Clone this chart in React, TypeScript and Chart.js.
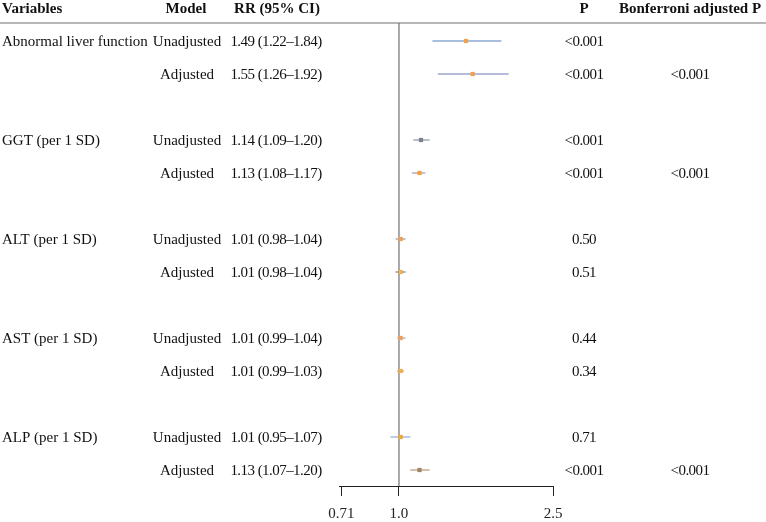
import React, { useEffect, useRef } from "react";
import { Chart, registerables } from "chart.js";

Chart.register(...registerables);

// ---- data ----
const variables = [
  "Abnormal liver function",
  "GGT (per 1 SD)",
  "ALT (per 1 SD)",
  "AST (per 1 SD)",
  "ALP (per 1 SD)",
];
const models = ["Unadjusted", "Adjusted"];
const rowPositions = [0, 1, 3, 4, 6, 7, 9, 10, 12, 13];
const rr = [1.49, 1.55, 1.14, 1.13, 1.01, 1.01, 1.01, 1.01, 1.01, 1.13];
const lower = [1.22, 1.26, 1.09, 1.08, 0.98, 0.98, 0.99, 0.99, 0.95, 1.07];
const upper = [1.84, 1.92, 1.2, 1.17, 1.04, 1.04, 1.04, 1.03, 1.07, 1.2];
const pValues = ["<0.001", "<0.001", "<0.001", "<0.001", "0.50", "0.51", "0.44", "0.34", "0.71", "<0.001"];
const bonferroni = ["", "<0.001", "", "<0.001", "", "", "", "", "", "<0.001"];
const xTicks = [0.71, 1.0, 2.5];
const xTickLabels = ["0.71", "1.0", "2.5"];
const headers = ["Variables", "Model", "RR (95% CI)", "P", "Bonferroni adjusted P"];

// ---- styles ----
const lineColors = ["#8eaad2", "#9ba6cc", "#a3a9b3", "#a9b0c4", "#a5aec8", "#8a8fd6", "#b0b8cc", "#b0a8c0", "#a6bcdc", "#caa98a"];
const pointColors = ["#f0a24e", "#f0a050", "#7d8090", "#f5a040", "#f0a050", "#f2b040", "#f0a050", "#f2b040", "#f5a535", "#a08466"];
const FONT = "'Liberation Serif', 'Times New Roman', serif";
const Y_MIN = -18 / 33;
const Y_MAX = 445 / 33;

const fmt = (v: number) => v.toFixed(2);

const textPlugin = {
  id: "forestText",
  afterDraw(chart: any) {
    const ctx = chart.ctx as any;
    const ys = chart.scales.y;
    ctx.save();
    // header
    ctx.fillStyle = "#111";
    ctx.textBaseline = "middle";
    ctx.font = `bold 15px ${FONT}`;
    const hy = 9;
    ctx.textAlign = "left";
    ctx.fillText(headers[0], 2, hy);
    ctx.textAlign = "center";
    ctx.fillText(headers[1], 186, hy);
    ctx.fillText(headers[2], 277, hy);
    ctx.fillText(headers[3], 584, hy);
    ctx.fillText(headers[4], 690, hy);
    // header rule
    ctx.strokeStyle = "#6e6e6e";
    ctx.lineWidth = 1;
    ctx.beginPath();
    ctx.moveTo(0, 23);
    ctx.lineTo(766, 23);
    ctx.stroke();
    // rows
    ctx.font = `15px ${FONT}`;
    rowPositions.forEach((p, i) => {
      const y = ys.getPixelForValue(p) + 1;
      ctx.letterSpacing = "0px";
      if (i % 2 === 0) {
        ctx.textAlign = "left";
        ctx.fillText(variables[i / 2], 2, y);
      }
      ctx.textAlign = "center";
      ctx.fillText(models[i % 2], 187, y);
      ctx.letterSpacing = "-0.55px";
      ctx.fillText(`${fmt(rr[i])} (${fmt(lower[i])}\u2013${fmt(upper[i])})`, 276, y);
      ctx.fillText(pValues[i], 584, y);
      if (bonferroni[i]) ctx.fillText(bonferroni[i], 690, y);
    });
    ctx.restore();
  },
};

export default function App() {
  const ref = useRef<HTMLCanvasElement>(null);
  useEffect(() => {
    if (!ref.current) return;
    const datasets: any[] = [];
    datasets.push({
      label: "RR",
      data: rr.map((v, i) => ({ x: v, y: rowPositions[i] })),
      pointBackgroundColor: pointColors,
      pointBorderWidth: 0,
      pointStyle: "rect",
      pointRadius: 3,
      showLine: false,
    });
    rowPositions.forEach((p, i) => {
      datasets.push({
        label: "CI" + i,
        data: [
          { x: lower[i], y: p },
          { x: upper[i], y: p },
        ],
        borderColor: lineColors[i],
        borderWidth: 1.5,
        pointRadius: 0,
        showLine: true,
      });
    });
    datasets.push({
      label: "ref",
      data: [
        { x: 1, y: Y_MIN },
        { x: 1, y: Y_MAX },
      ],
      borderColor: "#8c8c8c",
      borderWidth: 1.5,
      pointRadius: 0,
      showLine: true,
    });
    const chart = new Chart(ref.current, {
      type: "scatter",
      data: { datasets },
      plugins: [textPlugin],
      options: {
        animation: false,
        responsive: false,
        devicePixelRatio: 1,
        layout: { padding: { left: 339, right: 213, top: 23, bottom: 0 } },
        plugins: { legend: { display: false }, tooltip: { enabled: false } },
        scales: {
          x: {
            type: "logarithmic",
            min: 0.71,
            max: 2.5,
            afterBuildTicks: (s: any) => {
              s.ticks = xTicks.map((v) => ({ value: v }));
            },
            afterFit: (s: any) => {
              s.height = 36;
            },
            ticks: {
              callback: (_v: any, i: number) => xTickLabels[i],
              color: "#222",
              font: { family: FONT, size: 15 },
              padding: 9,
              maxRotation: 0,
              autoSkip: false,
            },
            grid: { drawOnChartArea: false, color: "#222", tickLength: 10, lineWidth: 1 },
            border: { color: "#222", width: 1 },
          },
          y: {
            type: "linear",
            display: false,
            reverse: true,
            min: Y_MIN,
            max: Y_MAX,
          },
        },
      } as any,
    });
    return () => chart.destroy();
  }, []);
  return (
    <div style={{ position: "absolute", left: 0, top: 0, width: 766, height: 522, background: "#fff" }}>
      <canvas ref={ref} width={766} height={522} />
    </div>
  );
}
